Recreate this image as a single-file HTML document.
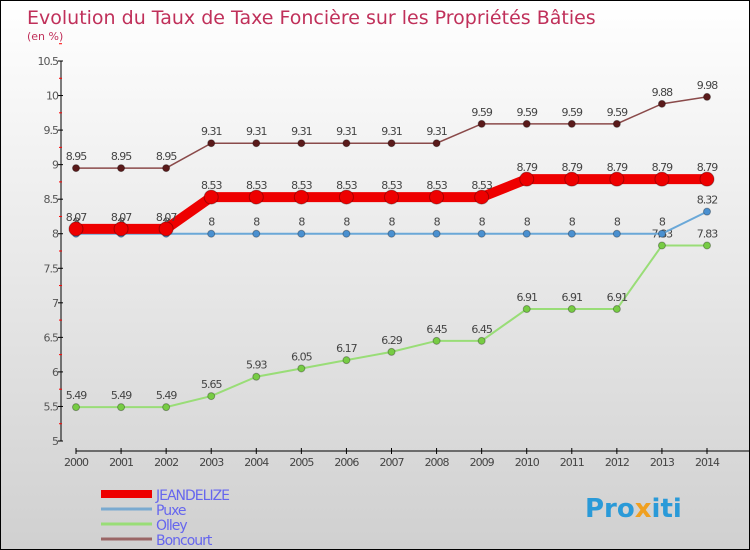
<!DOCTYPE html>
<html><head><meta charset="utf-8"><style>
body{margin:0}
#c{width:748px;height:548px;border:1px solid #000;background:linear-gradient(#ffffff,#d0d0d0);position:relative;font-family:"DejaVu Sans","Liberation Sans",sans-serif;overflow:hidden}
svg{position:absolute;left:0;top:0}
</style></head><body>
<div id="c">
<svg id="s" width="748" height="548">
<text x="26" y="23" font-size="19" fill="#c0305a">Evolution du Taux de Taxe Foncière sur les Propriétés Bâties</text>
<text x="26" y="39" font-size="11" fill="#c0305a">(en %)</text>
<text x="584" y="516" font-size="26" font-weight="bold" fill="#2a9ad8">Pro<tspan fill="#f0a020">x</tspan>iti</text>
</svg></div>
<script>
const years=[2000,2001,2002,2003,2004,2005,2006,2007,2008,2009,2010,2011,2012,2013,2014];
const yTicks=[5,5.5,6,6.5,7,7.5,8,8.5,9,9.5,10,10.5];
const jeandelize=[8.07,8.07,8.07,8.53,8.53,8.53,8.53,8.53,8.53,8.53,8.79,8.79,8.79,8.79,8.79];
const puxe=[8,8,8,8,8,8,8,8,8,8,8,8,8,8,8.32];
const olley=[5.49,5.49,5.49,5.65,5.93,6.05,6.17,6.29,6.45,6.45,6.91,6.91,6.91,7.83,7.83];
const boncourt=[8.95,8.95,8.95,9.31,9.31,9.31,9.31,9.31,9.31,9.59,9.59,9.59,9.59,9.88,9.98];
const NS='http://www.w3.org/2000/svg',s=document.getElementById('s');
const X=i=>75+i*(706-75)/14, Y=v=>440-(v-5)*(380/5.5);
function mk(t,a,p){const e=document.createElementNS(NS,t);for(const k in a)e.setAttribute(k,a[k]);(p||s).appendChild(e);return e;}
let ax=mk('line',{x1:60,y1:60,x2:60,y2:440,stroke:'#000'});


yTicks.forEach(v=>{mk('line',{x1:57,x2:62,y1:Y(v),y2:Y(v),stroke:'#000'});
mk('line',{x1:58,x2:61,y1:Y(v+0.25),y2:Y(v+0.25),stroke:'#f00'});
const t=mk('text',{x:57,y:Y(v)+4,'text-anchor':'end','font-size':11,fill:'#555','letter-spacing':'-1'});t.textContent=v;

});
let xa=mk('line',{x1:75,y1:450,x2:748,y2:450,stroke:'#000'});


years.forEach((y,i)=>{mk('line',{x1:X(i),x2:X(i),y1:447,y2:453,stroke:'#000'});
const t=mk('text',{x:X(i),y:465,'text-anchor':'middle','font-size':11,fill:'#444','letter-spacing':'-1'});t.textContent=y;

});
function series(d,col,dot,w,r,name,labels){
const g=mk('g',{});


mk('polyline',{points:d.map((v,i)=>X(i)+','+Y(v)).join(' '),fill:'none',stroke:col,'stroke-width':w},g);
d.forEach((v,i)=>{const c=mk('circle',{cx:X(i),cy:Y(v),r:r,fill:dot,stroke:'rgba(0,0,0,0.3)'},g);


if(labels){const t=mk('text',{x:X(i),y:Y(v)-8,'text-anchor':'middle','font-size':11,fill:'#444','letter-spacing':'-1'},g);t.textContent=v;

}});}
series(olley,'#99dd77','#77cc44',2,3.5,'olley',1);
series(puxe,'#6aa8d8','#4a90d0',2,3.5,'puxe',1);
series(boncourt,'#8a4a4a','#5a1a1a',1.5,3.5,'boncourt',1);
series(jeandelize,'#ee0000','#ee0000',10,7,'jeandelize',1);
[['JEANDELIZE','#ee0000',8],['Puxe','#7aaad0',3],['Olley','#99dd77',3],['Boncourt','#9a6666',3]].forEach((l,i)=>{
const y=493+i*15;
const ln=mk('line',{x1:100,x2:151,y1:y,y2:y,stroke:l[1],'stroke-width':l[2]});


const t=mk('text',{x:155,y:y+6,'font-size':14,fill:'#6666ee','letter-spacing':'-1'});t.textContent=l[0];

});
</script></body></html>
